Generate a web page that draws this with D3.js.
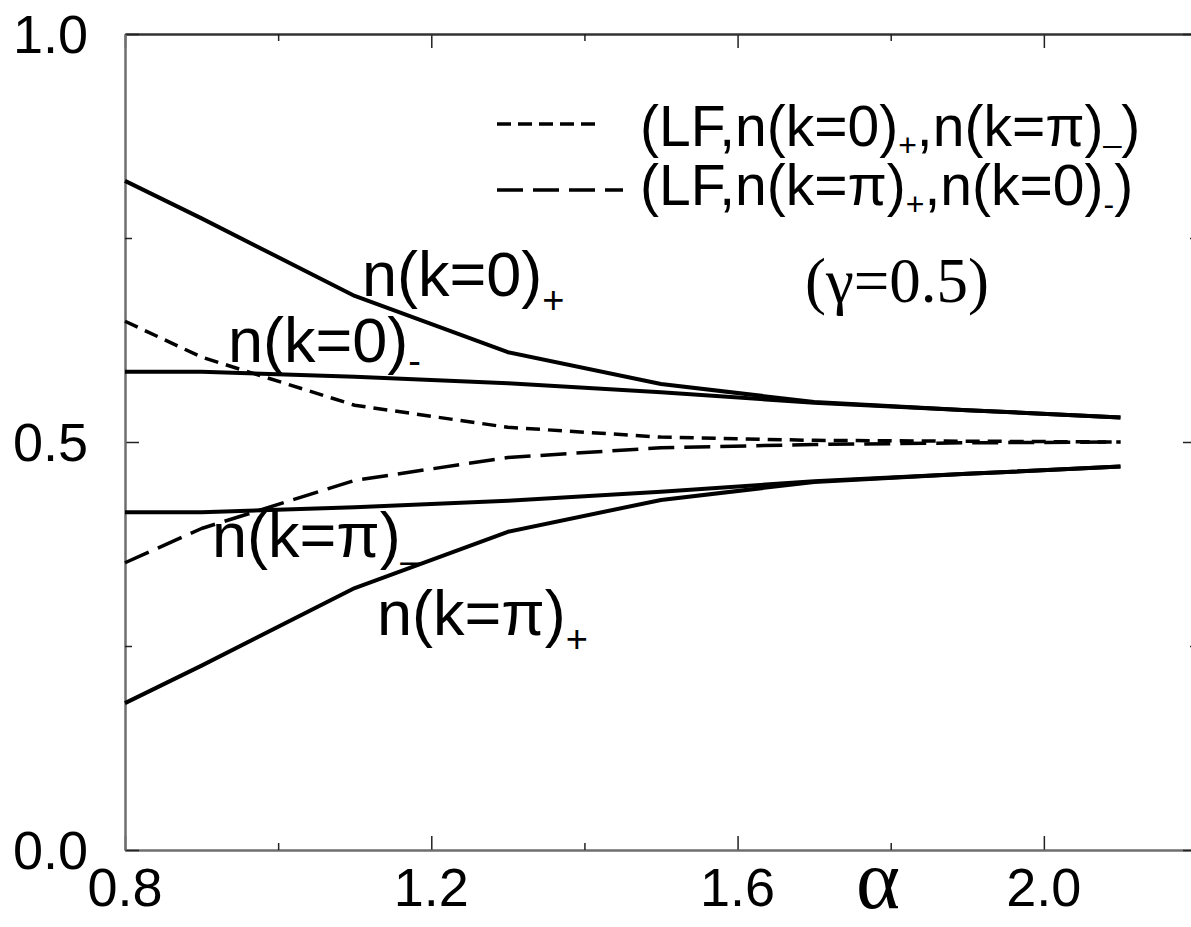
<!DOCTYPE html>
<html>
<head>
<meta charset="utf-8">
<script src="https://cdn.jsdelivr.net/npm/d3@7"></script>
<style>
  body { margin: 0; background: #fff; }
  svg { display: block; }
  .sans { font-family: "Liberation Sans", Arial, sans-serif; fill: #000; }
  .serif { font-family: "Liberation Serif", "Times New Roman", serif; fill: #000; }
</style>
</head>
<body>
<svg id="chart" width="1191" height="927"></svg>
<script>
// alpha values where the curves were computed
const alpha = [0.8, 0.9, 1.1, 1.3, 1.5, 1.7, 1.9, 2.1];

// occupation numbers (solid curves)
const n0Plus   = [0.820, 0.774, 0.679, 0.610, 0.571, 0.549, 0.539, 0.530];
const n0Minus  = [0.586, 0.586, 0.580, 0.572, 0.561, 0.548, 0.539, 0.530];
const nPiMinus = [0.414, 0.414, 0.420, 0.428, 0.439, 0.452, 0.461, 0.470];
const nPiPlus  = [0.180, 0.226, 0.321, 0.390, 0.429, 0.451, 0.461, 0.470];

// LF combinations (dashed curves)
const lfShort = [0.648, 0.604, 0.545, 0.518, 0.506, 0.502, 0.501, 0.500];
const lfLong  = [0.352, 0.394, 0.453, 0.481, 0.493, 0.497, 0.499, 0.500];

// ticks
const xMajor = [0.8, 1.2, 1.6, 2.0];
const xMinor = [1.0, 1.4, 1.8];
const yMajor = [0.0, 0.5, 1.0];
const yMinor = [0.25, 0.75];

const svg = d3.select('#chart');

const x = d3.scaleLinear().domain([0.8, 2.2]).range([125, 1197]);
const y = d3.scaleLinear().domain([0, 1]).range([850, 34]);

// frame
const axisColor = '#6e6e6e';
function drawAxis(axis, transform, color) {
  const g = svg.append('g').attr('transform', transform).call(axis);
  g.select('.domain').attr('stroke', color).attr('stroke-width', 2);
  g.selectAll('.tick line').attr('stroke', '#222').attr('stroke-width', 1.5);
  g.selectAll('.tick text').remove();
  return g;
}

// major + minor ticks on all four sides (inward)
drawAxis(d3.axisBottom(x).tickValues(xMajor).tickSize(-14).tickSizeOuter(0), `translate(0,${y(0)})`, axisColor);
drawAxis(d3.axisBottom(x).tickValues(xMinor).tickSize(-7).tickSizeOuter(0), `translate(0,${y(0)})`, axisColor);
drawAxis(d3.axisTop(x).tickValues(xMajor).tickSize(-14).tickSizeOuter(0), `translate(0,${y(1)})`, '#333');
drawAxis(d3.axisTop(x).tickValues(xMinor).tickSize(-7).tickSizeOuter(0), `translate(0,${y(1)})`, '#333');
drawAxis(d3.axisLeft(y).tickValues(yMajor).tickSize(-14).tickSizeOuter(0), `translate(${x(0.8)},0)`, axisColor);
drawAxis(d3.axisLeft(y).tickValues(yMinor).tickSize(-7).tickSizeOuter(0), `translate(${x(0.8)},0)`, axisColor);
drawAxis(d3.axisRight(y).tickValues(yMajor).tickSize(-14).tickSizeOuter(0), `translate(${x(2.2)},0)`, axisColor);
drawAxis(d3.axisRight(y).tickValues(yMinor).tickSize(-7).tickSizeOuter(0), `translate(${x(2.2)},0)`, axisColor);

// tick labels
svg.append('g').selectAll('text')
  .data(xMajor)
  .join('text')
  .attr('class', 'sans')
  .attr('x', d => x(d))
  .attr('y', 906)
  .attr('text-anchor', 'middle')
  .attr('font-size', 54)
  .text(d => d.toFixed(1));

svg.append('g').selectAll('text')
  .data(yMajor)
  .join('text')
  .attr('class', 'sans')
  .attr('x', 88)
  .attr('y', d => y(d) + 19)
  .attr('text-anchor', 'end')
  .attr('font-size', 54)
  .text(d => d.toFixed(1));

// axis title
svg.append('text')
  .attr('class', 'serif')
  .attr('x', 878)
  .attr('y', 908)
  .attr('text-anchor', 'middle')
  .attr('font-size', 84)
  .text('α');

// curves
const line = d3.line()
  .x((d, i) => x(alpha[i]))
  .y(d => y(d));

const series = [
  { values: n0Plus, dash: null, width: 4 },
  { values: n0Minus, dash: null, width: 4 },
  { values: nPiMinus, dash: null, width: 4 },
  { values: nPiPlus, dash: null, width: 4 },
  { values: lfShort, dash: '14 8', width: 3.5 },
  { values: lfLong, dash: '26 10', width: 3.5 }
];

svg.append('g').selectAll('path')
  .data(series)
  .join('path')
  .attr('d', d => line(d.values))
  .attr('fill', 'none')
  .attr('stroke', '#000')
  .attr('stroke-width', d => d.width)
  .attr('stroke-linejoin', 'round')
  .attr('stroke-dasharray', d => d.dash);

// text with subscript helper
function label(px, py, size, main, sub, subSize, subShift) {
  const t = svg.append('text')
    .attr('class', 'sans')
    .attr('x', px)
    .attr('y', py)
    .attr('font-size', size);
  t.append('tspan').text(main);
  if (sub) {
    t.append('tspan').attr('font-size', subSize).attr('dy', subShift).text(sub);
  }
  return t;
}

label(362, 296, 63, 'n(k=0)', '+', 38, 17);
label(228, 362, 63, 'n(k=0)', '-', 38, 12);
label(212, 557, 63, 'n(k=π)', '_', 38, 0);
label(377, 635, 63, 'n(k=π)', '+', 38, 17);

// legend
const legendItems = [
  { dash: '14 7', y: 124, len: 100, parts: [['(LF,n(k=0)', 0, 0], ['+', 1, 10], [',n(k=π)', 0, -10], ['_', 1, -4], [')', 0, 4]] },
  { dash: '26 10', y: 190, len: 126, parts: [['(LF,n(k=π)', 0, 0], ['+', 1, 10], [',n(k=0)', 0, -10], ['-', 1, 10], [')', 0, -10]] }
];

legendItems.forEach((item, i) => {
  svg.append('line')
    .attr('x1', 497).attr('x2', 497 + item.len)
    .attr('y1', item.y).attr('y2', item.y)
    .attr('stroke', '#000')
    .attr('stroke-width', 3.5)
    .attr('stroke-dasharray', item.dash);

  const t = svg.append('text')
    .attr('class', 'sans')
    .attr('x', 640)
    .attr('y', 146 + i * 59)
    .attr('font-size', 57);
  item.parts.forEach(([s, isSub, dy]) => {
    const ts = t.append('tspan').text(s);
    if (isSub) ts.attr('font-size', 32);
    if (dy) ts.attr('dy', dy);
  });
});

svg.append('text')
  .attr('class', 'serif')
  .attr('x', 805)
  .attr('y', 302)
  .attr('font-size', 63)
  .text('(γ=0.5)');
</script>
</body>
</html>
